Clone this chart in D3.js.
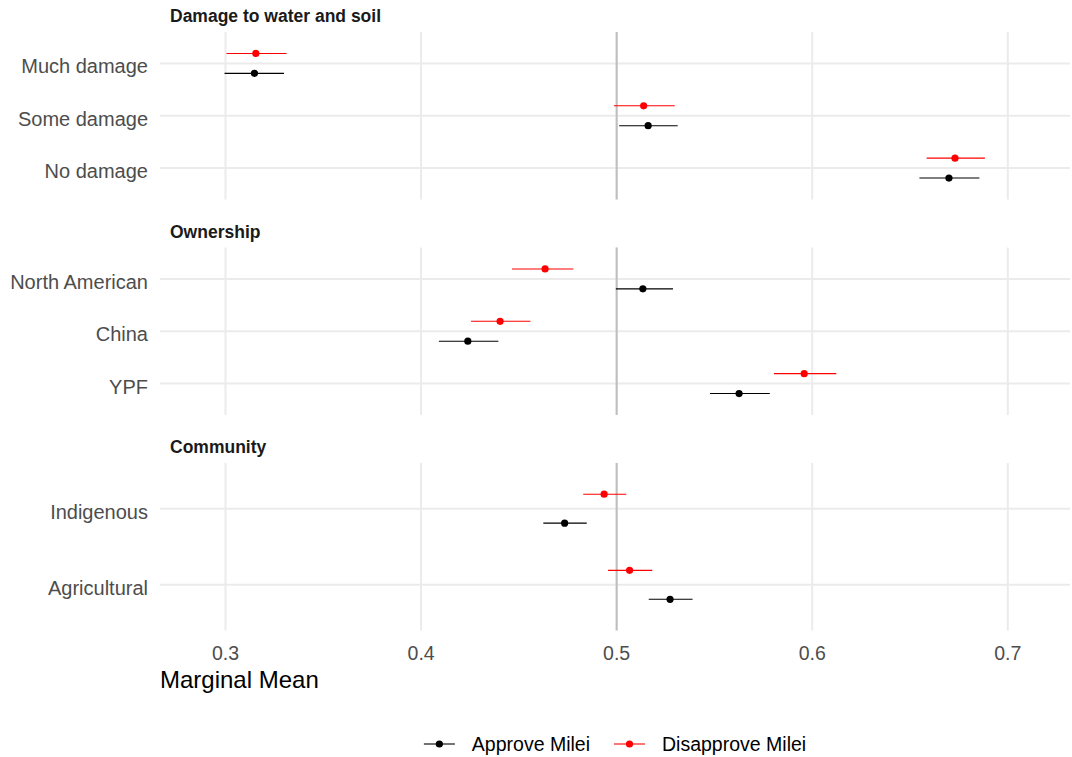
<!DOCTYPE html>
<html>
<head>
<meta charset="utf-8">
<script src="https://cdn.jsdelivr.net/npm/d3@7"></script>
<style>
  body { margin: 0; background: #fff; }
  text { font-family: "Liberation Sans", Arial, Helvetica, sans-serif; }
</style>
</head>
<body>
<div id="chart"></div>
<script>
const WIDTH = 1072;
const HEIGHT = 757;
const PANEL = {left: 160, right: 1070, height: 167.5};
const PANEL_TOPS = [32, 247.5, 463];

// facets and their levels (top to bottom)
const facets = ["Damage to water and soil", "Ownership", "Community"];
const levels = [
  ["Much damage", "Some damage", "No damage"],
  ["North American", "China", "YPF"],
  ["Indigenous", "Agricultural"]
];
const groups = ["Approve Milei", "Disapprove Milei"];

// estimates and intervals, same order as the levels above
const approveEst = [0.3148, 0.5161, 0.6699, 0.5134, 0.4239, 0.5626, 0.4734, 0.5273];
const approveLo  = [0.2995, 0.5013, 0.6548, 0.4996, 0.4091, 0.5477, 0.4625, 0.5164];
const approveHi  = [0.3299, 0.5312, 0.6855, 0.5288, 0.4395, 0.5783, 0.4847, 0.5388];
const disapproveEst = [0.3155, 0.5138, 0.6730, 0.4634, 0.4404, 0.5959, 0.4936, 0.5066];
const disapproveLo  = [0.3005, 0.4986, 0.6585, 0.4465, 0.4255, 0.5804, 0.4829, 0.4956];
const disapproveHi  = [0.3312, 0.5297, 0.6883, 0.4779, 0.4559, 0.6123, 0.5049, 0.5182];

const xTicks = [0.3, 0.4, 0.5, 0.6, 0.7];
const refLine = 0.5;

const COLORS = {"Approve Milei": "#000000", "Disapprove Milei": "#ff0000"};
const DODGE = {"Approve Milei": 0.19, "Disapprove Milei": -0.19};

// build rows
const rows = [];
let k = 0;
levels.forEach((lv, f) => {
  lv.forEach(level => {
    rows.push({facet: f, level: level, group: groups[0], est: approveEst[k], lo: approveLo[k], hi: approveHi[k]});
    rows.push({facet: f, level: level, group: groups[1], est: disapproveEst[k], lo: disapproveLo[k], hi: disapproveHi[k]});
    k++;
  });
});

const svg = d3.select("#chart")
  .append("svg")
    .attr("width", WIDTH)
    .attr("height", HEIGHT);

const X_SCALE = d3.scaleLinear()
  .domain([0.2665, 0.7318])
  .range([PANEL.left, PANEL.right]);

facets.forEach((name, f) => {
  const top = PANEL_TOPS[f];
  const Y_SCALE = d3.scalePoint()
    .domain(levels[f])
    .range([top, top + PANEL.height])
    .padding(0.6);
  const step = Y_SCALE.step();

  const g = svg.append("g");

  // strip title
  g.append("text")
    .attr("x", 170)
    .attr("y", top - 16)
    .attr("dy", "0.35em")
    .attr("font-size", "17.5px")
    .attr("font-weight", "bold")
    .attr("fill", "#1a1a1a")
    .text(name);

  // vertical grid
  g.selectAll(".vgrid")
    .data(xTicks)
    .enter()
    .append("line")
      .attr("x1", d => X_SCALE(d))
      .attr("x2", d => X_SCALE(d))
      .attr("y1", top)
      .attr("y2", top + PANEL.height)
      .attr("stroke", "#ebebeb")
      .attr("stroke-width", 2);

  // horizontal grid
  g.selectAll(".hgrid")
    .data(levels[f])
    .enter()
    .append("line")
      .attr("x1", PANEL.left)
      .attr("x2", PANEL.right)
      .attr("y1", d => Y_SCALE(d))
      .attr("y2", d => Y_SCALE(d))
      .attr("stroke", "#ebebeb")
      .attr("stroke-width", 2);

  // reference line
  g.append("line")
    .attr("x1", X_SCALE(refLine))
    .attr("x2", X_SCALE(refLine))
    .attr("y1", top)
    .attr("y2", top + PANEL.height)
    .attr("stroke", "#bebebe")
    .attr("stroke-width", 2);

  // y axis labels
  g.selectAll(".ylab")
    .data(levels[f])
    .enter()
    .append("text")
      .attr("x", 148)
      .attr("y", d => Y_SCALE(d) + 3)
      .attr("dy", "0.35em")
      .attr("text-anchor", "end")
      .attr("font-size", "20px")
      .attr("fill", "#4d4d4d")
      .text(d => d);

  const pd = rows.filter(r => r.facet === f);
  const yPos = d => Y_SCALE(d.level) + DODGE[d.group] * step;

  g.selectAll(".ci")
    .data(pd)
    .enter()
    .append("line")
      .attr("x1", d => X_SCALE(d.lo))
      .attr("x2", d => X_SCALE(d.hi))
      .attr("y1", yPos)
      .attr("y2", yPos)
      .attr("stroke", d => COLORS[d.group])
      .attr("stroke-width", 1.1);

  g.selectAll(".pt")
    .data(pd)
    .enter()
    .append("circle")
      .attr("cx", d => X_SCALE(d.est))
      .attr("cy", yPos)
      .attr("r", 3.6)
      .attr("fill", d => COLORS[d.group]);
});

// x axis tick labels on the bottom panel
const bottom = PANEL_TOPS[2] + PANEL.height;
svg.selectAll(".xlab")
  .data(xTicks)
  .enter()
  .append("text")
    .attr("x", d => X_SCALE(d))
    .attr("y", bottom + 22.5)
    .attr("dy", "0.35em")
    .attr("text-anchor", "middle")
    .attr("font-size", "19.5px")
    .attr("fill", "#4d4d4d")
    .text(d => d3.format(".1f")(d));

svg.append("text")
  .attr("x", PANEL.left)
  .attr("y", bottom + 49)
  .attr("dy", "0.35em")
  .attr("font-size", "24px")
  .attr("fill", "#000")
  .text("Marginal Mean");

// legend
const legend = svg.append("g");
const items = legend.selectAll(".item")
  .data(groups)
  .enter()
  .append("g");

items.append("line")
  .attr("x1", 0).attr("x2", 31)
  .attr("y1", 0).attr("y2", 0)
  .attr("stroke", d => COLORS[d])
  .attr("stroke-width", 1.1);
items.append("circle")
  .attr("cx", 15.5).attr("cy", 0).attr("r", 3.6)
  .attr("fill", d => COLORS[d]);
items.append("text")
  .attr("x", 48)
  .attr("dy", "0.35em")
  .attr("font-size", "19.5px")
  .attr("fill", "#000")
  .text(d => d);

let offset = 0;
const offsets = [];
items.each(function() {
  const w = 48 + d3.select(this).select("text").node().getComputedTextLength();
  offsets.push(offset);
  offset += w + 24;
});
const total = offset - 24;
const start = (PANEL.left + PANEL.right) / 2 - total / 2;
items.attr("transform", (d, i) => "translate(" + (start + offsets[i]) + ",744)");
</script>
</body>
</html>
